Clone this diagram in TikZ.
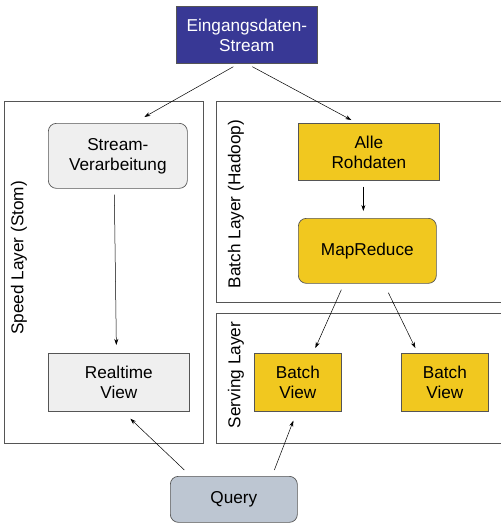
\documentclass[tikz,border=0pt]{standalone}
\usepackage{fontspec}
\setmainfont{Liberation Sans}
\usetikzlibrary{arrows.meta}
\definecolor{eblue}{HTML}{383895}
\definecolor{ygold}{HTML}{F1C81F}
\definecolor{lgray}{HTML}{EFEFEF}
\definecolor{qgray}{HTML}{BDC6D2}
\definecolor{bordr}{HTML}{555555}
\begin{document}
\begin{tikzpicture}[x=1pt,y=-1pt,
  every node/.style={font=\fontsize{17.2}{20}\selectfont, align=center, inner sep=0pt},
  layerbox/.style={draw=bordr, line width=0.8pt},
  boxsq/.style={draw=bordr, line width=0.7pt, anchor=north west},
  boxrd/.style={boxsq, rounded corners=8pt},
  arr/.style={-{Stealth[length=6pt,width=4pt]}, line width=0.5pt},
  lbl/.style={rotate=90}]
\useasboundingbox (0,0) rectangle (501,523);
% layers
\draw[layerbox] (4,101) rectangle (203,443);
\draw[layerbox] (216,101) -- (501,101);
\draw[layerbox] (216,101) -- (216,302) -- (501,302);
\draw[layerbox] (216,313) -- (501,313);
\draw[layerbox] (216,313) -- (216,443) -- (501,443);
\node[lbl] (lspeed) at (19,258) {Speed Layer (Stom)};
\node[lbl] (lbatch) at (236,204) {Batch Layer (Hadoop)};
\node[lbl] (lserv) at (236,375) {Serving Layer};
% nodes
\node[boxsq, fill=eblue, text=white, minimum width=141pt, minimum height=57pt] (ein) at (176,6) {Eingangsdaten-\\Stream};
\node[boxrd, fill=lgray, minimum width=139pt, minimum height=65pt] (str) at (48,123) {Stream-\\Verarbeitung};
\node[boxsq, fill=lgray, minimum width=141pt, minimum height=58pt] (rtv) at (48,353) {Realtime\\View};
\node[boxsq, fill=ygold, minimum width=141pt, minimum height=57pt] (all) at (298,123) {Alle\\Rohdaten};
\node[boxrd, fill=ygold, minimum width=138pt, minimum height=65pt] (mr) at (298,218) {MapReduce};
\node[boxsq, fill=ygold, minimum width=87pt, minimum height=58pt] (bv1) at (254,353) {Batch\\View};
\node[boxsq, fill=ygold, minimum width=87pt, minimum height=58pt] (bv2) at (401,353) {Batch\\View};
\node[boxrd, fill=qgray, minimum width=127pt, minimum height=46pt] (qry) at (170,476) {\raisebox{-2pt}{Query}};
% arrows
\draw[arr] ([xshift=-13.5pt,yshift=-3pt]ein.south) -- ([xshift=26.5pt,yshift=6pt]str.north);
\draw[arr] ([xshift=5.5pt,yshift=-3pt]ein.south) -- ([xshift=-17.5pt,yshift=3pt]all.north);
\draw[arr] ([xshift=-3.5pt,yshift=-6pt]str.south) -- ([xshift=-2.5pt,yshift=8pt]rtv.north);
\draw[arr] ([xshift=-5.5pt,yshift=-6pt]all.south) -- ([xshift=-4pt,yshift=7pt]mr.north);
\draw[arr] ([xshift=-26pt,yshift=-6pt]mr.south) -- ([xshift=17.5pt,yshift=5pt]bv1.north);
\draw[arr] ([xshift=21pt,yshift=-9pt]mr.south) -- ([xshift=-29.5pt,yshift=5pt]bv2.north);
\draw[arr] ([xshift=-49.5pt,yshift=6pt]qry.north) -- ([xshift=11.5pt,yshift=-7pt]rtv.south);
\draw[arr] ([xshift=40.5pt,yshift=6pt]qry.north) -- ([xshift=-4.5pt,yshift=-9pt]bv1.south);
\end{tikzpicture}
\end{document}
